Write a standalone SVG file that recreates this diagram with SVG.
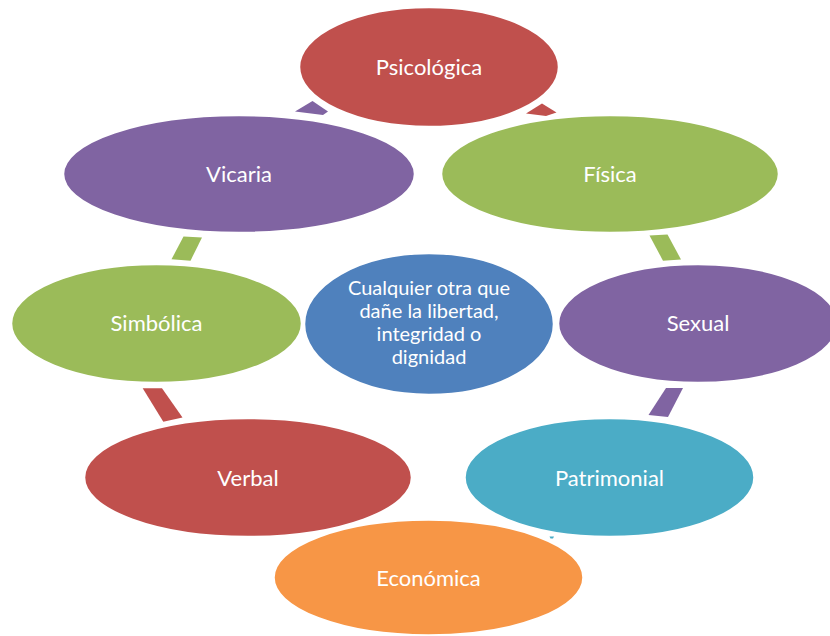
<svg xmlns="http://www.w3.org/2000/svg" width="830" height="636" viewBox="0 0 830 636">
<style>
.node ellipse{stroke:#FFFFFF;stroke-width:2.5}
.lbl{font-family:Lato,"Liberation Sans",sans-serif;font-size:22px;fill:#FFFFFF;text-anchor:middle}
.ctr{font-family:Lato,"Liberation Sans",sans-serif;font-size:20px;fill:#FFFFFF;text-anchor:middle}
.red{fill:#C0504D}.green{fill:#9BBB59}.purple{fill:#8064A2}.blue{fill:#4F81BD}.teal{fill:#4BACC6}.orange{fill:#F79646}
</style>
<rect width="830" height="636" fill="#FFFFFF"/>
<g id="connectors">
<polygon class="purple" points="295,111.5 312.5,101 328,111.5 323,115"/>
<polygon class="red" points="526,113.5 542,103.5 556.5,112.5 546,116"/>
<polygon class="green" points="649.5,235.5 667.5,234.5 681,259.5 663,260.7"/>
<polygon class="purple" points="666,388 683,388 668,417 648.5,415"/>
<polygon class="teal" points="549.5,536.5 554,536.5 553,538.5 550.5,538.5"/>
<polygon class="red" points="142.7,388.3 162,388.3 182.5,417.5 163.3,421.7"/>
<polygon class="green" points="183.5,236.5 202,237.5 190.5,260.7 171.5,259.3"/>
</g>
<g id="center" class="node">
<ellipse class="blue" cx="429" cy="324" rx="125" ry="71"/>
<text class="ctr" x="429" y="295">Cualquier otra que</text>
<text class="ctr" x="429" y="318">dañe la libertad,</text>
<text class="ctr" x="429" y="341">integridad o</text>
<text class="ctr" x="429" y="364">dignidad</text>
</g>
<g id="psicologica" class="node">
<ellipse class="red" cx="429" cy="67" rx="130" ry="60"/>
<text class="lbl" x="429" y="75">Psicológica</text>
</g>
<g id="fisica" class="node">
<ellipse class="green" cx="610" cy="174" rx="169" ry="59"/>
<text class="lbl" x="610" y="182">Física</text>
</g>
<g id="sexual" class="node">
<ellipse class="purple" cx="698" cy="323.5" rx="140" ry="59.5"/>
<text class="lbl" x="698" y="331">Sexual</text>
</g>
<g id="patrimonial" class="node">
<ellipse class="teal" cx="609.5" cy="477.5" rx="145" ry="59.5"/>
<text class="lbl" x="609.5" y="485.5">Patrimonial</text>
</g>
<g id="verbal" class="node">
<ellipse class="red" cx="248" cy="477.5" rx="164" ry="59.5"/>
<text class="lbl" x="248" y="485.5">Verbal</text>
</g>
<g id="economica" class="node">
<ellipse class="orange" cx="428.5" cy="577.5" rx="155" ry="58"/>
<text class="lbl" x="428.5" y="586">Económica</text>
</g>
<g id="simbolica" class="node">
<ellipse class="green" cx="156.5" cy="323.5" rx="145.5" ry="59.5"/>
<text class="lbl" x="156.5" y="331">Simbólica</text>
</g>
<g id="vicaria" class="node">
<ellipse class="purple" cx="239" cy="174" rx="176" ry="59"/>
<text class="lbl" x="239" y="182">Vicaria</text>
</g>
</svg>
